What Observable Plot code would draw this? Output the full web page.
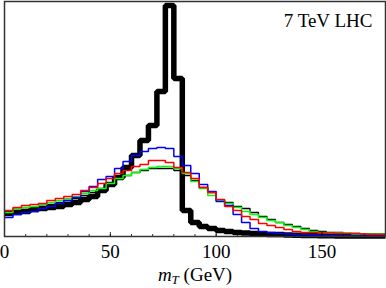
<!DOCTYPE html>
<html>
<head>
<meta charset="utf-8">
<script src="https://cdn.jsdelivr.net/npm/d3@7"></script>
<script src="https://cdn.jsdelivr.net/npm/@observablehq/plot@0.6"></script>
<style>
  html, body { margin: 0; padding: 0; background: #fff; }
  svg { overflow: visible; }
</style>
</head>
<body>
<div id="chart"></div>
<script>
// Bin lower edges (GeV), 4 GeV bins
const binStart = [0,4,8,12,16,20,24,28,32,36,40,44,48,52,56,60,64,68,72,76,80,84,88,92,96,100,104,108,112,116,120,124,128,132,136,140,144,148,152,156,160,164,168,172,176];
const binEnd = 180;
const majorTicks = [0, 50, 100, 150];
const minorTicks = [0,10,20,30,40,50,60,70,80,90,100,110,120,130,140,150,160,170,180];
const axisLabel = "mT (GeV)";
const annotation = ["7 TeV LHC"];

// Series (arbitrary units)
const thickBlack = [23,24,25,27,28,29,30,32,34,37,40,46,52,59,69,81,96,111,145,231,158,26,14,10,8,6,5,4,3.5,3,2.5,2,2,1.5,1.2,1,1,0.8,0.8,0.6,0.6,0.5,0.5,0.4,0.4];
const thinBlack  = [23,26,27,29,30,32,34,36,38,41,44,47,52,58,61,64,66,68,68,68,66,61,56,49,44,36,34,30,28,24,20,17,14,12,10,8,6,5,4,4,3,3,2.5,2.5,2];
const green      = [24,28,29,30,32,34,36,38,40,43,46,48,53,58,61,64,67,69,70,70,68,63,55,48,41,36,33,29,25,22,19,16,14,11,9,7,5,4,3.5,3.5,3.5,2.5,2.5,2.5,2.5];
const blue       = [19,22,24,25,28,30,33,36,39,45,50,57,60,68,75,81,85,88,89,88,80,71,63,52,45,35,31,22,14,8,5,4,3,2.5,2,2,1.5,1.5,1,1,0.8,0.8,0.6,0.6,0.5];
const red        = [26,29,31,32,33,36,38,40,42,46,49,53,58,63,66,70,72,76,76,74,69,64,58,49,44,37,30,26,20,17,13,11,9,7,5,4,4,3.5,3.5,3,3,3,2.5,2,2];

function steps(vals) {
  const pts = binStart.map((x, i) => ({x, y: vals[i]}));
  pts.push({x: binEnd, y: vals[vals.length - 1]});
  return pts;
}

const series = [
  {vals: thickBlack, color: "#000000", width: 5.5},
  {vals: thinBlack,  color: "#000000", width: 1.3},
  {vals: green,      color: "#00ff00", width: 1.5},
  {vals: blue,       color: "#0000ff", width: 1.5},
  {vals: red,        color: "#ff0000", width: 1.5}
];

const plot = Plot.plot({
  width: 386,
  height: 288,
  marginTop: 1,
  marginBottom: 52,
  marginLeft: 4,
  marginRight: 1,
  style: {fontFamily: "Liberation Serif, Times New Roman, serif", fontSize: "19px", background: "#fff", color: "#000"},
  x: {domain: [0, 180]},
  y: {domain: [0, 235], axis: null},
  marks: [
    ...series.map(s => Plot.line(steps(s.vals), {
      x: "x", y: "y", curve: "step-after",
      stroke: s.color, strokeWidth: s.width, strokeLinejoin: "miter", strokeLinecap: "butt"
    })),
    Plot.ruleX(minorTicks, {x: d => d, y1: 0, y2: 2, stroke: "#000", strokeWidth: 0.8}),
    Plot.ruleX(majorTicks, {x: d => d, y1: 0, y2: 4, stroke: "#000", strokeWidth: 0.8}),
    Plot.frame({stroke: "#333", strokeWidth: 1.5}),
    Plot.axisX({ticks: majorTicks, tickSize: 0, tickPadding: 8, label: null, fontSize: 19, tickFormat: d => String(d)}),
    Plot.text(annotation, {frameAnchor: "top-right", dx: -13, dy: 12, fontSize: 19, textAnchor: "end"}),
    Plot.text([axisLabel], {frameAnchor: "bottom", dy: 44, fontSize: 19, className: "xlabel"})
  ]
});

// Rich formatting for the axis label: italic m with subscript T
const lbl = d3.select(plot).select("g.xlabel text");
if (!lbl.empty()) {
  lbl.text(null);
  lbl.append("tspan").attr("font-style", "italic").text("m");
  lbl.append("tspan").attr("font-style", "italic").attr("font-size", "13px").attr("dy", "3").text("T");
  lbl.append("tspan").attr("dy", "-3").text(" (GeV)");
}

document.getElementById("chart").appendChild(plot);
</script>
</body>
</html>
